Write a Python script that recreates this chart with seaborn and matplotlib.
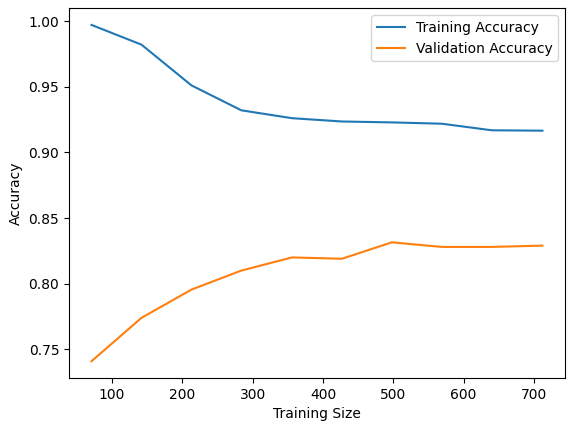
import numpy as np
import pandas as pd
import matplotlib
matplotlib.use("Agg")
import matplotlib.pyplot as plt
import seaborn as sns

# learning curve values
train_sizes = [71, 142, 213, 284, 356, 427, 498, 569, 640, 712]
train_acc = [0.997, 0.982, 0.951, 0.932, 0.926, 0.9235, 0.9228, 0.9218, 0.9168, 0.9165]
val_acc = [0.741, 0.774, 0.7955, 0.810, 0.820, 0.819, 0.8315, 0.828, 0.828, 0.829]

df = pd.DataFrame({
    "Training Size": train_sizes * 2,
    "Accuracy": train_acc + val_acc,
    "Curve": ["Training Accuracy"] * len(train_sizes) + ["Validation Accuracy"] * len(train_sizes),
})

fig, ax = plt.subplots(figsize=(5.73, 4.28), dpi=100)
fig.subplots_adjust(left=0.1204, right=0.986, top=0.981, bottom=0.1168)

sns.lineplot(data=df, x="Training Size", y="Accuracy", hue="Curve",
             palette=["#1f77b4", "#ff7f0e"], ax=ax)

ax.set_yticks([0.75, 0.80, 0.85, 0.90, 0.95, 1.00])
ax.set_xticks([100, 200, 300, 400, 500, 600, 700])
ax.legend(loc="upper right")
ax.set_xlabel("Training Size")
ax.set_ylabel("Accuracy")

plt.savefig("out.png", dpi=100)
